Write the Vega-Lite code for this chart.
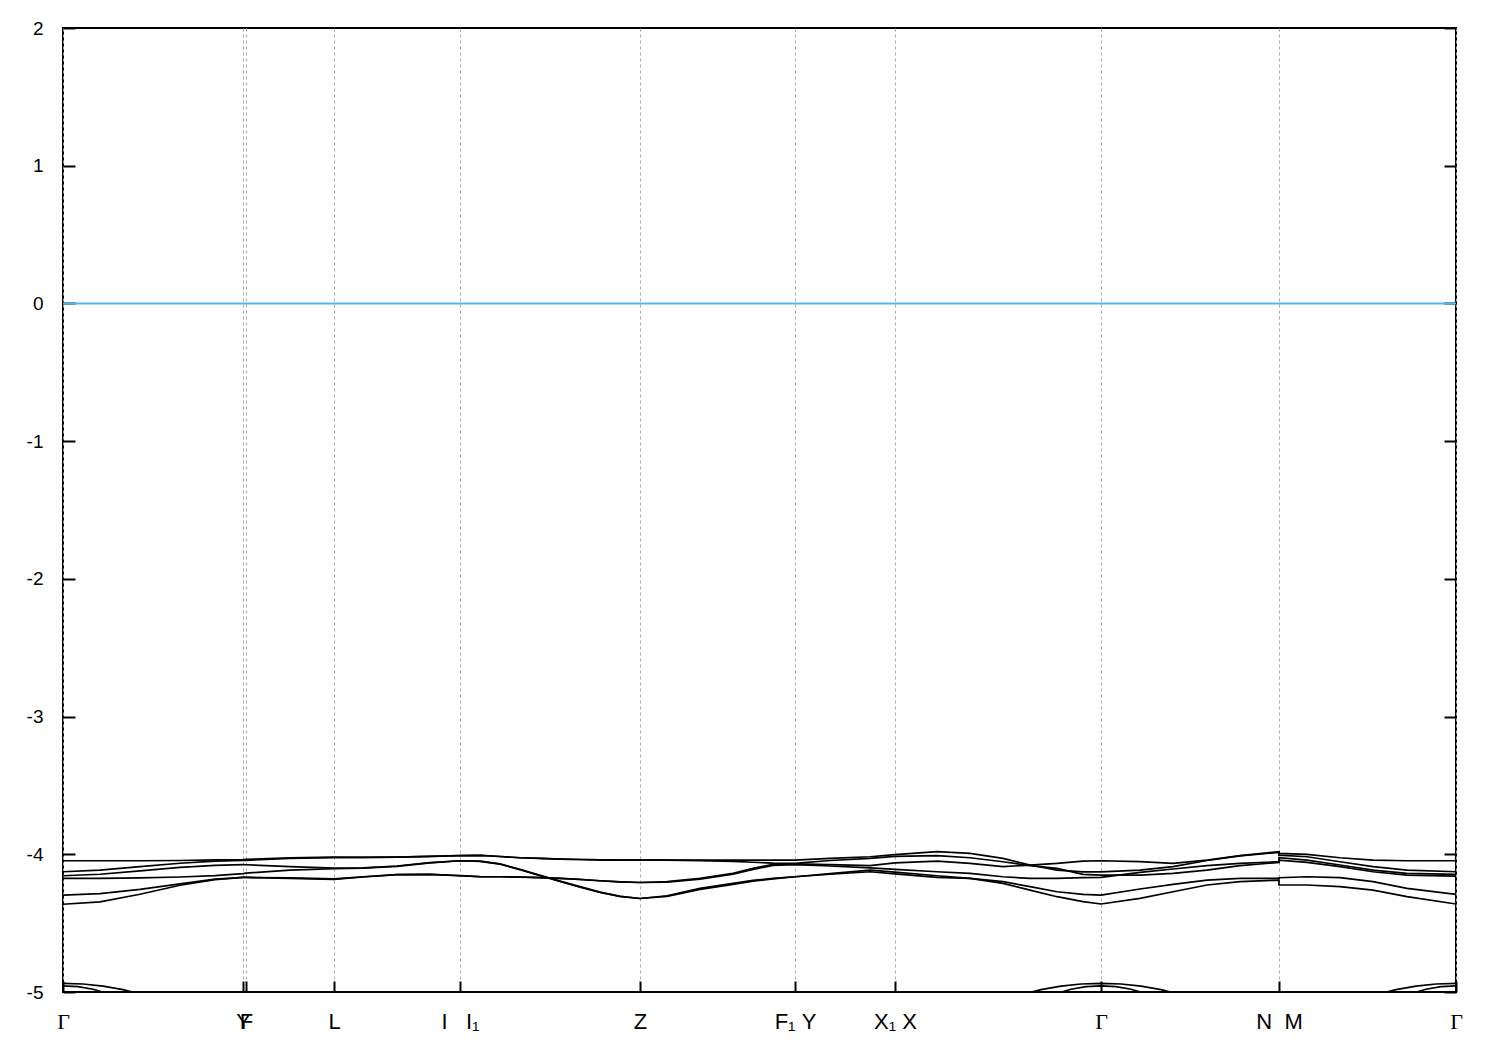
{
  "$schema": "https://vega.github.io/schema/vega-lite/v6.json",
  "width": 1393,
  "height": 964,
  "autosize": {"type": "none"},
  "padding": {"left": 63, "top": 28, "right": 44, "bottom": 58},
  "background": "white",
  "config": {
    "view": {"stroke": "black", "strokeWidth": 2},
    "axis": {"domain": false, "labelColor": "black", "titleColor": "black"}
  },
  "resolve": {"axis": {"y": "independent"}},
  "layer": [
    {
      "data": {"values": [{"e": 0}]},
      "mark": {"type": "rule", "color": "#56b4e9", "strokeWidth": 2},
      "encoding": {
        "y": {"field": "e", "type": "quantitative", "scale": {"domain": [-5, 2], "nice": false, "zero": false},
          "axis": {"orient": "left", "values": [-5, -4, -3, -2, -1, 0, 1, 2], "grid": false, "tickSize": -12, "tickWidth": 2, "tickColor": "black",
            "labelExpr": "'' + datum.value", "labelFont": "Liberation Sans", "labelFontSize": 19, "labelPadding": 32, "labelFlush": false, "title": null}}
      }
    },
    {
      "data": {"values": [
        {"i":0,"k":0,"A":-4.363,"B":-4.297,"C":-4.175,"D":-4.156,"E":-4.127,"F":-4.047},
        {"i":1,"k":0.37,"A":-4.345,"B":-4.285,"C":-4.175,"D":-4.145,"E":-4.115,"F":-4.047},
        {"i":2,"k":0.77,"A":-4.29,"B":-4.255,"C":-4.172,"D":-4.12,"E":-4.09,"F":-4.047},
        {"i":3,"k":1.17,"A":-4.225,"B":-4.215,"C":-4.165,"D":-4.095,"E":-4.065,"F":-4.045},
        {"i":4,"k":1.52,"A":-4.185,"B":-4.18,"C":-4.155,"D":-4.08,"E":-4.05,"F":-4.04},
        {"i":5,"k":1.8,"A":-4.168,"B":-4.168,"C":-4.14,"D":-4.075,"E":-4.045,"F":-4.038},
        {"i":6,"k":1.83,"A":-4.168,"B":-4.168,"C":-4.137,"D":-4.076,"E":-4.044,"F":-4.037},
        {"i":7,"k":2.27,"A":-4.175,"B":-4.172,"C":-4.115,"D":-4.09,"E":-4.03,"F":-4.025},
        {"i":8,"k":2.71,"A":-4.182,"B":-4.178,"C":-4.105,"D":-4.1,"E":-4.024,"F":-4.021},
        {"i":9,"k":3.0,"A":-4.165,"B":-4.163,"C":-4.1,"D":-4.098,"E":-4.022,"F":-4.022},
        {"i":10,"k":3.34,"A":-4.148,"B":-4.147,"C":-4.088,"D":-4.085,"E":-4.021,"F":-4.021},
        {"i":11,"k":3.67,"A":-4.146,"B":-4.146,"C":-4.062,"D":-4.06,"E":-4.015,"F":-4.015},
        {"i":12,"k":3.97,"A":-4.156,"B":-4.155,"C":-4.047,"D":-4.047,"E":-4.01,"F":-4.01},
        {"i":13,"k":4.17,"A":-4.163,"B":-4.162,"C":-4.052,"D":-4.05,"E":-4.008,"F":-4.008},
        {"i":14,"k":4.37,"A":-4.163,"B":-4.163,"C":-4.072,"D":-4.07,"E":-4.016,"F":-4.016},
        {"i":15,"k":4.57,"A":-4.166,"B":-4.165,"C":-4.112,"D":-4.11,"E":-4.025,"F":-4.025},
        {"i":16,"k":4.77,"A":-4.17,"B":-4.17,"C":-4.155,"D":-4.152,"E":-4.03,"F":-4.03},
        {"i":17,"k":4.97,"A":-4.175,"B":-4.175,"C":-4.197,"D":-4.195,"E":-4.035,"F":-4.035},
        {"i":18,"k":5.17,"A":-4.183,"B":-4.182,"C":-4.238,"D":-4.235,"E":-4.038,"F":-4.038},
        {"i":19,"k":5.37,"A":-4.192,"B":-4.192,"C":-4.277,"D":-4.275,"E":-4.04,"F":-4.04},
        {"i":20,"k":5.57,"A":-4.2,"B":-4.2,"C":-4.306,"D":-4.305,"E":-4.042,"F":-4.042},
        {"i":21,"k":5.77,"A":-4.205,"B":-4.205,"C":-4.321,"D":-4.321,"E":-4.042,"F":-4.042},
        {"i":22,"k":6.04,"A":-4.199,"B":-4.203,"C":-4.301,"D":-4.305,"E":-4.042,"F":-4.042},
        {"i":23,"k":6.37,"A":-4.175,"B":-4.18,"C":-4.248,"D":-4.255,"E":-4.046,"F":-4.042},
        {"i":24,"k":6.7,"A":-4.139,"B":-4.145,"C":-4.211,"D":-4.218,"E":-4.052,"F":-4.042},
        {"i":25,"k":6.9,"A":-4.102,"B":-4.11,"C":-4.19,"D":-4.195,"E":-4.058,"F":-4.042},
        {"i":26,"k":7.1,"A":-4.073,"B":-4.08,"C":-4.175,"D":-4.178,"E":-4.064,"F":-4.042},
        {"i":27,"k":7.32,"A":-4.07,"B":-4.075,"C":-4.163,"D":-4.163,"E":-4.066,"F":-4.042},
        {"i":28,"k":7.67,"A":-4.075,"B":-4.085,"C":-4.14,"D":-4.145,"E":-4.045,"F":-4.03},
        {"i":29,"k":8.07,"A":-4.083,"B":-4.098,"C":-4.115,"D":-4.127,"E":-4.03,"F":-4.018},
        {"i":30,"k":8.32,"A":-4.062,"B":-4.11,"C":-4.13,"D":-4.142,"E":-4.015,"F":-4.003},
        {"i":31,"k":8.74,"A":-4.049,"B":-4.127,"C":-4.156,"D":-4.168,"E":-4.01,"F":-3.981},
        {"i":32,"k":9.07,"A":-4.066,"B":-4.139,"C":-4.175,"D":-4.175,"E":-4.025,"F":-3.994},
        {"i":33,"k":9.4,"A":-4.09,"B":-4.163,"C":-4.199,"D":-4.211,"E":-4.054,"F":-4.03},
        {"i":34,"k":9.67,"A":-4.078,"B":-4.175,"C":-4.235,"D":-4.26,"E":-4.083,"F":-4.078},
        {"i":35,"k":9.94,"A":-4.066,"B":-4.175,"C":-4.272,"D":-4.308,"E":-4.102,"F":-4.115},
        {"i":36,"k":10.2,"A":-4.049,"B":-4.17,"C":-4.291,"D":-4.344,"E":-4.146,"F":-4.127},
        {"i":37,"k":10.38,"A":-4.047,"B":-4.168,"C":-4.296,"D":-4.361,"E":-4.151,"F":-4.127},
        {"i":38,"k":10.77,"A":-4.054,"B":-4.131,"C":-4.252,"D":-4.32,"E":-4.151,"F":-4.115},
        {"i":39,"k":11.1,"A":-4.066,"B":-4.107,"C":-4.219,"D":-4.272,"E":-4.139,"F":-4.09},
        {"i":40,"k":11.44,"A":-4.042,"B":-4.083,"C":-4.187,"D":-4.223,"E":-4.115,"F":-4.045},
        {"i":41,"k":11.77,"A":-4.01,"B":-4.066,"C":-4.175,"D":-4.199,"E":-4.083,"F":-4.012},
        {"i":42,"k":12.16,"A":-3.981,"B":-4.054,"C":-4.175,"D":-4.187,"E":-4.059,"F":-3.986},
        {"i":43,"k":12.16,"A":-3.994,"B":-4.025,"C":-4.17,"D":-4.223,"E":-4.042,"F":-4.006},
        {"i":44,"k":12.44,"A":-4.001,"B":-4.042,"C":-4.163,"D":-4.223,"E":-4.059,"F":-4.018},
        {"i":45,"k":12.77,"A":-4.025,"B":-4.078,"C":-4.17,"D":-4.235,"E":-4.09,"F":-4.054},
        {"i":46,"k":13.1,"A":-4.042,"B":-4.115,"C":-4.199,"D":-4.26,"E":-4.127,"F":-4.09},
        {"i":47,"k":13.44,"A":-4.047,"B":-4.139,"C":-4.248,"D":-4.308,"E":-4.151,"F":-4.115},
        {"i":48,"k":13.93,"A":-4.047,"B":-4.146,"C":-4.291,"D":-4.361,"E":-4.158,"F":-4.127}
      ]},
      "transform": [{"fold": ["A", "B", "C", "D", "E", "F"], "as": ["band", "e"]}],
      "mark": {"type": "line", "color": "black", "strokeWidth": 1.7, "clip": true},
      "encoding": {
        "x": {"field": "k", "type": "quantitative", "scale": {"domain": [0, 13.93], "nice": false, "zero": false},
          "axis": {"values": [0, 1.8, 1.83, 2.71, 3.97, 5.77, 7.32, 8.32, 10.38, 12.16, 13.93],
            "labelExpr": "datum.value == 1.8 ? 'Y' : datum.value == 1.83 ? 'F' : datum.value == 2.71 ? 'L' : datum.value == 3.97 ? 'I\u00a0\u00a0\u00a0I₁' : datum.value == 5.77 ? 'Z' : datum.value == 7.32 ? 'F₁\u00a0Y' : datum.value == 8.32 ? 'X₁\u00a0X' : datum.value == 12.16 ? 'N\u00a0\u00a0M' : 'Γ'",
            "labelFont": {"condition": {"test": "datum.value == 0 || datum.value == 10.38 || datum.value == 13.93", "value": "Liberation Serif"}, "value": "Liberation Sans"},
            "labelFontSize": 22, "labelPadding": 30, "labelOverlap": false, "labelFlush": false, "labelBound": false,
            "tickSize": -11, "tickWidth": 2, "tickColor": "black",
            "grid": true, "gridColor": "#a8a8a8", "gridDash": [3, 3], "gridWidth": 1, "title": null}},
        "y": {"field": "e", "type": "quantitative", "scale": {"domain": [-5, 2], "nice": false, "zero": false},
          "axis": {"orient": "right", "values": [-5, -4, -3, -2, -1, 0, 1, 2], "grid": false, "labels": false, "tickSize": -12, "tickWidth": 2, "tickColor": "black", "title": null}},
        "detail": {"field": "band", "type": "nominal"},
        "order": {"field": "i", "type": "quantitative"}
      }
    },
    {
      "data": {"values": [
        {"b":"L1a","i":0,"k":0,"e":-4.937},{"b":"L1a","i":1,"k":0.2,"e":-4.942},{"b":"L1a","i":2,"k":0.4,"e":-4.958},{"b":"L1a","i":3,"k":0.6,"e":-4.983},{"b":"L1a","i":4,"k":0.8,"e":-5.02},
        {"b":"L2a","i":0,"k":0,"e":-4.955},{"b":"L2a","i":1,"k":0.15,"e":-4.961},{"b":"L2a","i":2,"k":0.3,"e":-4.98},{"b":"L2a","i":3,"k":0.45,"e":-5.012},
        {"b":"L1b","i":0,"k":9.58,"e":-5.02},{"b":"L1b","i":1,"k":9.78,"e":-4.983},{"b":"L1b","i":2,"k":9.98,"e":-4.958},{"b":"L1b","i":3,"k":10.18,"e":-4.942},{"b":"L1b","i":4,"k":10.38,"e":-4.937},{"b":"L1b","i":5,"k":10.58,"e":-4.942},{"b":"L1b","i":6,"k":10.78,"e":-4.958},{"b":"L1b","i":7,"k":10.98,"e":-4.983},{"b":"L1b","i":8,"k":11.18,"e":-5.02},
        {"b":"L2b","i":0,"k":9.93,"e":-5.012},{"b":"L2b","i":1,"k":10.08,"e":-4.98},{"b":"L2b","i":2,"k":10.23,"e":-4.961},{"b":"L2b","i":3,"k":10.38,"e":-4.955},{"b":"L2b","i":4,"k":10.53,"e":-4.961},{"b":"L2b","i":5,"k":10.68,"e":-4.98},{"b":"L2b","i":6,"k":10.83,"e":-5.012},
        {"b":"L1c","i":0,"k":13.13,"e":-5.02},{"b":"L1c","i":1,"k":13.33,"e":-4.983},{"b":"L1c","i":2,"k":13.53,"e":-4.958},{"b":"L1c","i":3,"k":13.73,"e":-4.942},{"b":"L1c","i":4,"k":13.93,"e":-4.937},
        {"b":"L2c","i":0,"k":13.48,"e":-5.012},{"b":"L2c","i":1,"k":13.63,"e":-4.98},{"b":"L2c","i":2,"k":13.78,"e":-4.961},{"b":"L2c","i":3,"k":13.93,"e":-4.955}
      ]},
      "mark": {"type": "line", "color": "black", "strokeWidth": 1.7, "clip": true},
      "encoding": {
        "x": {"field": "k", "type": "quantitative", "scale": {"domain": [0, 13.93], "nice": false, "zero": false}},
        "y": {"field": "e", "type": "quantitative", "scale": {"domain": [-5, 2], "nice": false, "zero": false}, "axis": null},
        "detail": {"field": "b", "type": "nominal"},
        "order": {"field": "i", "type": "quantitative"}
      }
    }
  ]
}
